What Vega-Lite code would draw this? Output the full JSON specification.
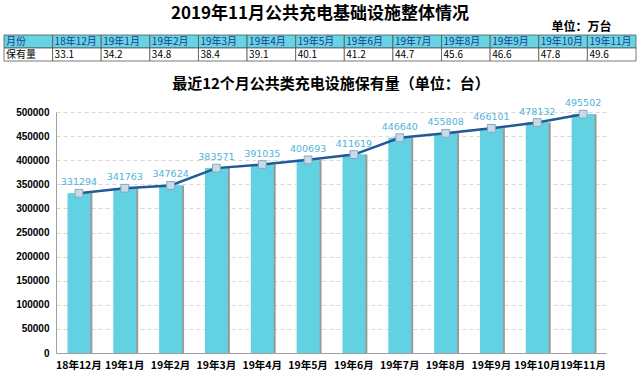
{
  "$schema": "https://vega.github.io/schema/vega-lite/v6.json",
  "background": "white",
  "padding": {"left": 3, "top": 4, "right": 5, "bottom": 0},
  "title": {"text": "2019年11月公共充电基础设施整体情况", "fontSize": 17, "fontWeight": "bold", "font": "Noto Sans CJK SC", "anchor": "middle", "offset": -2, "color": "#000000"},
  "spacing": 15,
  "datasets": {
    "table": [
      {"col": "label", "row": "月份", "text": "月份"},
      {"col": "label", "row": "保有量", "text": "保有量"},
      {"col": "18年12月", "row": "月份", "text": "18年12月"},
      {"col": "18年12月", "row": "保有量", "text": "33.1"},
      {"col": "19年1月", "row": "月份", "text": "19年1月"},
      {"col": "19年1月", "row": "保有量", "text": "34.2"},
      {"col": "19年2月", "row": "月份", "text": "19年2月"},
      {"col": "19年2月", "row": "保有量", "text": "34.8"},
      {"col": "19年3月", "row": "月份", "text": "19年3月"},
      {"col": "19年3月", "row": "保有量", "text": "38.4"},
      {"col": "19年4月", "row": "月份", "text": "19年4月"},
      {"col": "19年4月", "row": "保有量", "text": "39.1"},
      {"col": "19年5月", "row": "月份", "text": "19年5月"},
      {"col": "19年5月", "row": "保有量", "text": "40.1"},
      {"col": "19年6月", "row": "月份", "text": "19年6月"},
      {"col": "19年6月", "row": "保有量", "text": "41.2"},
      {"col": "19年7月", "row": "月份", "text": "19年7月"},
      {"col": "19年7月", "row": "保有量", "text": "44.7"},
      {"col": "19年8月", "row": "月份", "text": "19年8月"},
      {"col": "19年8月", "row": "保有量", "text": "45.6"},
      {"col": "19年9月", "row": "月份", "text": "19年9月"},
      {"col": "19年9月", "row": "保有量", "text": "46.6"},
      {"col": "19年10月", "row": "月份", "text": "19年10月"},
      {"col": "19年10月", "row": "保有量", "text": "47.8"},
      {"col": "19年11月", "row": "月份", "text": "19年11月"},
      {"col": "19年11月", "row": "保有量", "text": "49.6"}
    ],
    "main": [
      {"month": "18年12月", "value": 331294},
      {"month": "19年1月", "value": 341763},
      {"month": "19年2月", "value": 347624},
      {"month": "19年3月", "value": 383571},
      {"month": "19年4月", "value": 391035},
      {"month": "19年5月", "value": 400693},
      {"month": "19年6月", "value": 411619},
      {"month": "19年7月", "value": 446640},
      {"month": "19年8月", "value": 455808},
      {"month": "19年9月", "value": 466101},
      {"month": "19年10月", "value": 478132},
      {"month": "19年11月", "value": 495502}
    ]
  },
  "vconcat": [
    {
      "width": 580,
      "height": 26,
      "title": {"text": "单位：万台", "anchor": "end", "fontSize": 12, "font": "Noto Sans CJK SC", "fontWeight": "bold", "offset": 1, "color": "#000000", "dx": -25},
      "data": {"name": "table"},
      "encoding": {
        "x": {"field": "col", "type": "ordinal", "sort": ["label", "18年12月", "19年1月", "19年2月", "19年3月", "19年4月", "19年5月", "19年6月", "19年7月", "19年8月", "19年9月", "19年10月", "19年11月"], "axis": null, "scale": {"paddingInner": 0, "paddingOuter": 0, "range": [-52, 580]}},
        "y": {"field": "row", "type": "ordinal", "sort": ["月份", "保有量"], "axis": null, "scale": {"paddingInner": 0, "paddingOuter": 0}}
      },
      "layer": [
        {
          "mark": {"type": "rect", "stroke": "#555555", "strokeWidth": 0.8},
          "encoding": {
            "fill": {"field": "row", "type": "nominal", "scale": {"domain": ["月份", "保有量"], "range": ["#66d4e3", "#ffffff"]}, "legend": null}
          }
        },
        {
          "mark": {"type": "text", "align": "left", "dx": 2, "font": "Noto Sans CJK SC", "fontSize": 10, "baseline": "middle"},
          "encoding": {
            "x": {"field": "col", "type": "ordinal", "sort": ["label", "18年12月", "19年1月", "19年2月", "19年3月", "19年4月", "19年5月", "19年6月", "19年7月", "19年8月", "19年9月", "19年10月", "19年11月"], "bandPosition": 0},
            "text": {"field": "text"},
            "color": {"field": "row", "type": "nominal", "scale": {"domain": ["月份", "保有量"], "range": ["#1f3a93", "#000000"]}, "legend": null}
          }
        }
      ]
    },
    {
      "width": 550,
      "height": 241,
      "title": {"text": "最近12个月公共类充电设施保有量（单位：台）", "fontSize": 15, "font": "Noto Sans CJK SC", "fontWeight": "bold", "anchor": "middle", "offset": 6, "color": "#000000"},
      "data": {"name": "main"},
      "encoding": {
        "x": {"field": "month", "type": "ordinal", "sort": null, "scale": {"paddingInner": 0.5, "paddingOuter": 0.25},
          "axis": {"title": null, "labelAngle": 0, "labelFont": "Noto Sans CJK SC", "labelFontWeight": "bold", "labelFontSize": 10.5, "labelColor": "#000000", "ticks": false, "domainColor": "#a0a0a0", "labelPadding": 7, "grid": false}},
        "y": {"field": "value", "type": "quantitative", "scale": {"domain": [0, 500000], "nice": false},
          "axis": {"title": null, "values": [0, 50000, 100000, 150000, 200000, 250000, 300000, 350000, 400000, 450000, 500000], "format": "d", "labelFont": "Liberation Sans", "labelFontWeight": "bold", "labelFontSize": 10, "labelColor": "#000000", "ticks": false, "domainColor": "#a0a0a0", "gridColor": "#d8d8d8", "gridDash": [4, 3], "labelPadding": 7, "minExtent": 52}}
      },
      "layer": [
        {"mark": {"type": "bar", "color": "#9a9a9a", "xOffset": 2}, "encoding": {}},
        {"mark": {"type": "bar", "color": "#62d2e2"}, "encoding": {}},
        {"mark": {"type": "line", "color": "#1f5a96", "strokeWidth": 2.5}, "encoding": {}},
        {"mark": {"type": "point", "shape": "square", "size": 60, "filled": true, "fill": "#c9dbe8", "stroke": "#8aa6bf", "strokeWidth": 1, "opacity": 1}, "encoding": {}},
        {"mark": {"type": "text", "dy": -11, "color": "#4fb3d9", "font": "DejaVu Sans", "fontSize": 9.5}, "encoding": {"text": {"field": "value", "type": "quantitative", "format": "d"}}}
      ]
    }
  ],
  "config": {"view": {"stroke": null}}
}
